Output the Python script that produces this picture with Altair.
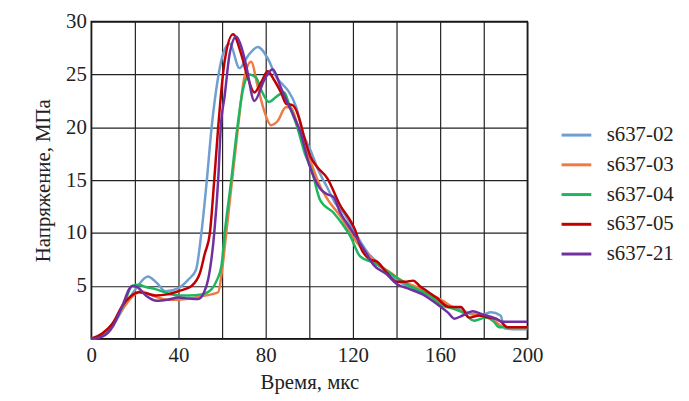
import altair as alt
import pandas as pd

series_names = ["s637-02", "s637-03", "s637-04", "s637-05", "s637-21"]
series_colors = ["#6f9fd0", "#ef7b42", "#1db65e", "#c00000", "#7030a0"]

t02 = [0, 5, 10, 15, 20, 26, 30, 34, 40, 44.5, 48, 50.5, 53, 55.2, 58, 60.5, 63.5, 68, 72, 76.4, 81, 85, 88, 90.5, 94, 97, 100.6, 104, 108, 112, 115.8, 120.3, 124, 127, 132.4, 137, 143, 150.6, 156, 161, 166, 170.3, 176.4, 180, 183.2, 187.7, 189.5, 195, 200]
v02 = [0, 0.3, 1.3, 3.0, 4.6, 5.9, 5.3, 4.5, 4.8, 5.6, 6.5, 10, 15, 20, 24.5, 27, 27.9, 25.6, 26.8, 27.6, 26.5, 24.7, 24.0, 23.4, 21.9, 19.5, 17.8, 16.0, 14.4, 12.8, 11.9, 10.3, 9.0, 8.1, 7.0, 6.0, 5.2, 4.5, 4.0, 3.3, 3.0, 2.7, 2.2, 2.3, 2.5, 2.2, 1.0, 0.9, 0.9]

t03 = [0, 5, 10, 15, 20, 23, 28, 35, 40, 45, 50, 55, 58.2, 60, 61.9, 64.6, 67.3, 70, 73.3, 76.4, 79.4, 82.4, 85.5, 89.2, 91.4, 94.5, 98, 101, 105, 109, 114.2, 118, 121.8, 127, 132.4, 137, 141.5, 148, 155, 162, 168, 172, 176, 180, 184, 187.7, 192, 200]
v03 = [0, 0.4, 1.5, 3.0, 4.2, 4.5, 4.1, 3.7, 3.7, 3.8, 4.0, 4.2, 4.4, 6.5, 10, 15, 20, 24.5, 26.2, 23.8, 21.5, 20.2, 20.6, 21.9, 21.9, 20.3, 18.0, 16.5, 14.4, 13.0, 11.6, 10.3, 9.1, 8.0, 6.9, 6.3, 5.6, 5.0, 4.3, 3.5, 2.7, 2.5, 2.3, 2.1, 1.9, 1.25, 1.1, 1.1]

t04 = [0, 5, 10, 15, 18.8, 21.8, 25, 29.4, 35, 40, 45, 50.6, 55.2, 57.5, 59.7, 61.2, 64.2, 67, 69.5, 72.6, 75.6, 78, 81.5, 85.5, 88.5, 91, 94.5, 98, 101, 105, 111.2, 115, 118.8, 123.3, 129.4, 135, 140, 146, 155.2, 161.2, 165, 170.3, 175.6, 180.9, 184.7, 187, 192, 200]
v04 = [0, 0.4, 1.5, 3.3, 5.0, 5.1, 4.9, 4.7, 4.3, 4.1, 4.1, 4.2, 4.7, 5.5, 6.9, 10, 15, 20, 23.5, 25.0, 24.7, 23.5, 22.4, 23.0, 23.3, 22.0, 20.0, 17.5, 16.0, 13.1, 11.9, 10.9, 9.7, 7.8, 7.2, 6.5, 5.8, 5.0, 4.1, 3.1, 2.9, 2.5, 1.7, 2.0, 1.6, 1.1, 1.1, 1.1]

t05 = [0, 5, 10, 14.2, 18, 21.8, 25, 29.4, 35, 40, 46, 49.9, 52, 54.4, 56.4, 58.2, 61, 65, 68.8, 71.8, 74.8, 78, 80.9, 83.5, 87, 89.5, 92.3, 95.3, 97.6, 100.6, 103.6, 108.2, 114.2, 119, 121, 123.3, 127.9, 131, 135.5, 140, 144, 147.6, 150.6, 154, 158.2, 164.2, 169.5, 173.3, 177.9, 182.4, 185.5, 188, 190.8, 200]
v05 = [0, 0.5, 1.5, 3.1, 4.0, 4.4, 4.3, 4.1, 4.2, 4.5, 5.0, 6.25, 8.0, 10, 15, 20, 26, 28.8, 26.9, 24.7, 23.3, 24.3, 25.3, 24.6, 23.3, 22.2, 22.1, 20.9, 19.1, 17.2, 16.25, 15.2, 12.6, 11.1, 10.3, 8.75, 7.5, 7.3, 6.25, 5.4, 5.4, 5.5, 5.0, 4.5, 3.9, 3.0, 3.0, 2.0, 2.2, 2.0, 1.9, 1.6, 1.1, 1.1]

t21 = [0, 5, 10, 14, 18.8, 21, 25, 30.1, 35, 40, 45, 49, 51.5, 53.6, 56.4, 58.2, 59.4, 61.2, 63.5, 66.5, 69, 71, 74.8, 79.4, 83.2, 87, 90, 93, 96, 99.9, 105, 108, 111.2, 114, 117.3, 121.8, 126.4, 129.4, 135.5, 140, 146, 152, 159.7, 163.5, 166.5, 170.3, 174.9, 179.4, 185.5, 188.5, 192, 200]
v21 = [0, 0.2, 1.2, 3.0, 5.0, 4.9, 4.1, 3.6, 3.7, 3.9, 3.8, 3.75, 4.3, 5.6, 10, 15, 20, 23.0, 27.0, 28.6, 27.5, 25.9, 22.5, 24.5, 25.5, 23.75, 22.3, 21.0, 19.5, 16.5, 14.2, 13.7, 13.4, 12.0, 10.9, 9.5, 8.0, 7.0, 6.1, 5.2, 4.7, 4.2, 3.1, 2.5, 1.9, 2.2, 2.6, 2.3, 1.9, 1.6, 1.6, 1.6]

x_grid = list(range(0, 201, 20))
y_grid = list(range(0, 31, 5))

rows = []
for name, ts, vs in zip(series_names, [t02, t03, t04, t05, t21], [v02, v03, v04, v05, v21]):
    for a, b in zip(ts, vs):
        rows.append({"t": a, "v": b, "s": name})
df = pd.DataFrame(rows)

font = "Times New Roman"
txt = "#222222"

chart = alt.Chart(df).mark_line(strokeWidth=2.5, interpolate="monotone").encode(
    x=alt.X("t:Q", scale=alt.Scale(domain=[0, 200], nice=False),
            axis=alt.Axis(values=x_grid,
                          labelExpr="datum.value == 0 ? '0\u2003\u2002' : (datum.value % 40 == 0 ? datum.label : '')",
                          title="Время, мкс", grid=True, gridColor="#222222", gridWidth=1.2,
                          ticks=False, domain=False, labelFont=font, labelFontSize=21,
                          labelColor=txt, labelPadding=6,
                          titleFont=font, titleFontSize=21, titleFontWeight="normal",
                          titleColor=txt, titlePadding=6, labelFlush=False)),
    y=alt.Y("v:Q", scale=alt.Scale(domain=[0, 30], nice=False),
            axis=alt.Axis(values=y_grid, labelExpr="datum.value == 0 ? '' : datum.label",
                          title="Напряжение, МПа", grid=True, gridColor="#222222", gridWidth=1.2,
                          ticks=False, domain=False, labelFont=font, labelFontSize=21,
                          labelColor=txt, labelPadding=5, labelFlush=False,
                          titleFont=font, titleFontSize=21, titleFontWeight="normal",
                          titleColor=txt, titlePadding=12)),
    color=alt.Color("s:N", scale=alt.Scale(domain=series_names, range=series_colors),
                    legend=alt.Legend(title=None, orient="none", legendX=473, legendY=98,
                                      symbolType="stroke", symbolSize=900, symbolStrokeWidth=3,
                                      labelFont=font, labelFontSize=21, labelColor=txt,
                                      rowPadding=3, labelOffset=14, labelLimit=200)),
).properties(
    width=440, height=320,
    autosize=alt.AutoSizeParams(type="none"),
    padding={"left": 84, "top": 12, "right": 155, "bottom": 55},
    background="white",
).configure_view(stroke="#111111", strokeWidth=1.5)

chart.save("out.html", embed_options={"renderer": "svg", "actions": False})
